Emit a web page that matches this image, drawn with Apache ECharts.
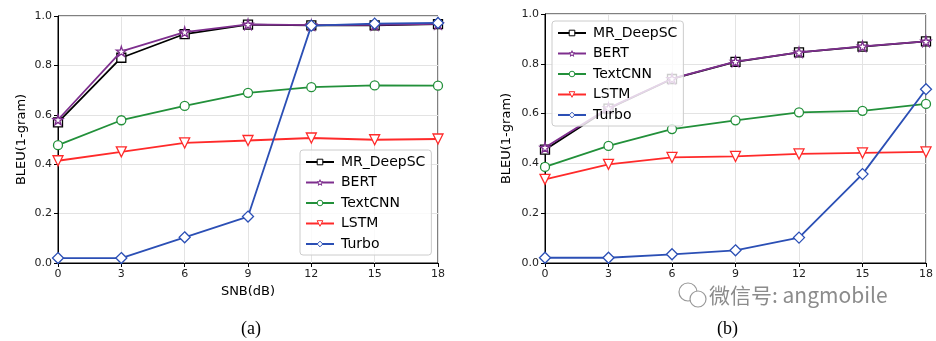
<!DOCTYPE html>
<html>
<head>
<meta charset="utf-8">
<script src="https://cdn.jsdelivr.net/npm/echarts@6/dist/echarts.min.js"></script>
<style>html,body{margin:0;padding:0;background:#fff;}#c{width:936px;height:341px;}</style>
</head>
<body>
<div id="c"></div>
<script>
// ---- data ----
const snr = [0, 3, 6, 9, 12, 15, 18];
const seriesNames = ['MR_DeepSC', 'BERT', 'TextCNN', 'LSTM', 'Turbo'];
// panel (a)
const aMR = [0.569, 0.831, 0.927, 0.965, 0.962, 0.962, 0.967];
const aBERT = [0.580, 0.857, 0.935, 0.966, 0.963, 0.964, 0.968];
const aTextCNN = [0.477, 0.578, 0.636, 0.689, 0.712, 0.719, 0.718];
const aLSTM = [0.414, 0.450, 0.486, 0.496, 0.506, 0.499, 0.502];
const aTurbo = [0.020, 0.020, 0.104, 0.188, 0.961, 0.969, 0.972];
// panel (b)
const bMR = [0.455, 0.620, 0.739, 0.808, 0.846, 0.869, 0.890];
const bBERT = [0.464, 0.622, 0.740, 0.809, 0.846, 0.870, 0.890];
const bTextCNN = [0.386, 0.470, 0.538, 0.573, 0.605, 0.611, 0.639];
const bLSTM = [0.336, 0.396, 0.424, 0.428, 0.438, 0.442, 0.446];
const bTurbo = [0.021, 0.021, 0.035, 0.051, 0.102, 0.357, 0.698];
const yTicks = [0.0, 0.2, 0.4, 0.6, 0.8, 1.0];
const xAxisName = 'SNB(dB)';
const yAxisName = 'BLEU(1-gram)';

const colors = ['#000000', '#7e2f8e', '#22903a', '#ff2a2a', '#2b4fb5'];
const star = 'path://M50,0 L61,35 L98,35 L68,57 L79,91 L50,70 L21,91 L32,57 L2,35 L39,35 Z';
const symbols = ['rect', star, 'circle', 'triangle', 'diamond'];
const symSizes = [9, 10, 9, 10, 11];
const rotations = [0, 0, 0, 180, 0];

const font = 'DejaVu Sans';
function mk(name, vals, idx, gi) {
  return {
    name: name, type: 'line', xAxisIndex: gi, yAxisIndex: gi,
    data: snr.map((x, i) => [x, vals[i]]),
    symbol: symbols[idx], symbolSize: symSizes[idx], symbolRotate: rotations[idx],
    showAllSymbol: true, color: colors[idx],
    lineStyle: { color: colors[idx], width: 1.8 },
    itemStyle: { color: '#fff', borderColor: colors[idx], borderWidth: 1.3 },
    emphasis: { disabled: true }, animation: false, z: 2 + idx * 0.01
  };
}
const aVals = [aMR, aBERT, aTextCNN, aLSTM, aTurbo];
const bVals = [bMR, bBERT, bTextCNN, bLSTM, bTurbo];
const series = [];
seriesNames.forEach((n, i) => series.push(mk(n, aVals[i], i, 0)));
seriesNames.forEach((n, i) => series.push(mk(n, bVals[i], i, 1)));

function xAx(gi, name) {
  return {
    type: 'value', gridIndex: gi, min: 0, max: 18, interval: 3,
    name: name, nameLocation: 'middle', nameGap: 21,
    nameTextStyle: { fontFamily: font, fontSize: 13, color: '#000' },
    axisLine: { show: true, onZero: false, lineStyle: { color: '#000', width: 1 } },
    axisTick: { show: true, length: 4, lineStyle: { color: '#000' } },
    axisLabel: { fontFamily: font, fontSize: 11, color: '#222', margin: 6 },
    splitLine: { show: true, lineStyle: { color: '#e3e3e3', width: 1 } }
  };
}
function yAx(gi, gap) {
  return {
    type: 'value', gridIndex: gi, min: 0, max: 1, interval: 0.2,
    name: yAxisName, nameLocation: 'middle', nameGap: gap,
    nameTextStyle: { fontFamily: font, fontSize: 13, color: '#000' },
    axisLine: { show: true, lineStyle: { color: '#000', width: 1 } },
    axisTick: { show: true, length: 4, lineStyle: { color: '#000' } },
    axisLabel: { fontFamily: font, fontSize: 11, color: '#222', margin: 6,
      formatter: v => { const t = yTicks.find(k => Math.abs(k - v) < 1e-6); return t === undefined ? '' : t.toFixed(1); } },
    splitLine: { show: true, lineStyle: { color: '#e3e3e3', width: 1 } }
  };
}
function leg(left, top) {
  return {
    data: seriesNames, orient: 'vertical', left: left, top: top,
    padding: [5, 6, 4, 5], itemGap: 6.5, itemWidth: 28, itemHeight: 7,
    itemStyle: { borderWidth: 1 },
    backgroundColor: 'rgba(255,255,255,0.8)', borderColor: '#cccccc', borderWidth: 1, borderRadius: 3,
    textStyle: { fontFamily: font, fontSize: 14, color: '#000', padding: [0, 0, 0, 2] }, selectedMode: false, z: 5
  };
}

const chart = echarts.init(document.getElementById('c'), null, { renderer: 'canvas' });
chart.setOption({
  backgroundColor: '#fff',
  animation: false,
  grid: [
    { left: 58, right: 498, top: 16, bottom: 78, show: true, borderColor: '#000', borderWidth: 1, backgroundColor: 'transparent', containLabel: false },
    { left: 545, right: 8, top: 14, bottom: 78, show: true, borderColor: '#000', borderWidth: 1, backgroundColor: 'transparent', containLabel: false }
  ],
  xAxis: [xAx(0, xAxisName), xAx(1, '')],
  yAxis: [yAx(0, 30), yAx(1, 32)],
  legend: [leg(300, 150), leg(552, 21)],
  series: series,
  graphic: [
    { type: 'text', left: 241, top: 320, style: { text: '(a)', font: '18px "Liberation Serif"', fill: '#000' } },
    { type: 'text', left: 717, top: 320, style: { text: '(b)', font: '18px "Liberation Serif"', fill: '#000' } },
    { type: 'circle', shape: { cx: 688, cy: 292, r: 9 }, style: { fill: 'none', stroke: '#999', lineWidth: 1.2 } },
    { type: 'circle', shape: { cx: 698, cy: 299, r: 8 }, style: { fill: '#fff', stroke: '#999', lineWidth: 1.2 } },
    { type: 'text', left: 708, top: 284, z: 10, style: { text: '微信号: angmobile', font: '21px "Noto Sans CJK SC"', fill: '#8c8c8c', stroke: '#fff', lineWidth: 2 } }
  ]
});
</script>
</body>
</html>
